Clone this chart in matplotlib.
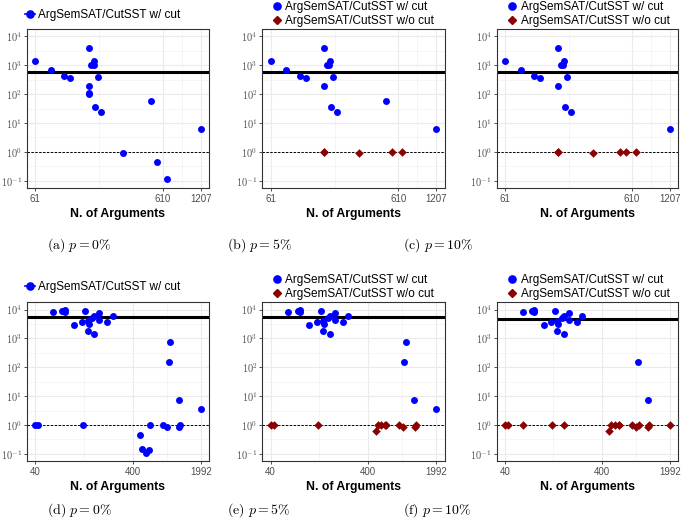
import matplotlib
matplotlib.use('Agg')
import matplotlib.pyplot as plt
from matplotlib.lines import Line2D
from matplotlib.ticker import FixedLocator, NullFormatter
import numpy as np

plt.rcParams['font.family'] = 'Liberation Sans'
plt.rcParams['mathtext.fontset'] = 'cm'

# ---- data: top row (a)-(c) ----
a_cut_n = [61, 81, 103, 115, 160, 160, 160, 160, 167, 175, 177, 188, 180, 200, 298, 489, 545, 655, 1207]
a_cut_y = [1393, 667, 405, 365, 3980, 189, 105, 98, 989, 1040, 1393, 384, 37, 24.3, 0.91, 56, 0.435, 0.117, 6.04]

b_cut_n = [61, 81, 103, 115, 160, 160, 167, 175, 177, 188, 180, 200, 489, 1207]
b_cut_y = [1393, 667, 405, 365, 3980, 189, 989, 1040, 1393, 384, 37, 24.3, 56, 6.04]
b_nocut_n = [160, 160, 298, 545, 655]
b_nocut_y = [1.0, 1.0, 0.89, 1.0, 1.0]

c_cut_n = [61, 81, 103, 115, 160, 160, 167, 175, 177, 188, 180, 200, 1207]
c_cut_y = [1393, 667, 405, 365, 3980, 189, 989, 1040, 1393, 384, 37, 24.3, 6.04]
c_nocut_n = [160, 160, 298, 489, 545, 655]
c_nocut_y = [1.0, 1.0, 0.89, 1.0, 1.0, 1.0]

# ---- data: bottom row (d)-(f) ----
cluster_n = [61, 76, 80, 80, 100, 120, 130, 139, 162, 139, 142, 153, 161, 181, 181, 220, 249]
cluster_y = [8260, 9240, 9690, 7890, 2944, 3733, 8740, 1787, 1443, 3950, 3190, 4900, 6030, 7450, 4380, 3730, 6010]

d_low_n = [40, 43, 123, 475, 498, 543, 591, 601, 822, 903, 1191, 1228]
d_low_y = [1.0, 1.0, 1.0, 0.46, 0.149, 0.105, 0.133, 0.98, 1.0, 0.82, 0.87, 1.0]
tail_n = [935, 964, 1183, 1992]
tail_y = [149, 728, 7.1, 3.47]

e_nocut_n = [40, 43, 123, 475, 498, 543, 591, 601, 822, 903, 1191, 1228]
e_nocut_y = [1.0, 1.0, 1.0, 0.64, 1.0, 1.0, 1.0, 1.0, 1.0, 0.83, 0.87, 1.0]

f_tail_n = [935, 1183]
f_tail_y = [149, 7.1]
f_nocut_n = [40, 43, 61, 123, 162, 475, 498, 543, 591, 601, 822, 903, 964, 1191, 1228, 1992]
f_nocut_y = [1.0, 1.0, 1.0, 1.0, 1.0, 0.64, 1.0, 1.0, 1.0, 1.0, 1.0, 0.83, 1.0, 0.87, 1.0, 0.98]

top_ticks = [61, 610, 1207]
bottom_ticks = [40, 400, 1992]
top_hline = [558, 558, 558]
bottom_hline = [5420, 5420, 4640]
captions = [r'$\mathrm{(a)}\ p = 0\%$', r'$\mathrm{(b)}\ p = 5\%$', r'$\mathrm{(c)}\ p = 10\%$',
            r'$\mathrm{(d)}\ p = 0\%$', r'$\mathrm{(e)}\ p = 5\%$', r'$\mathrm{(f)}\ p = 10\%$']

BLUE = '#0000FF'
RED = '#8B0000'
W, H = 685, 526
fig = plt.figure(figsize=(W / 100, H / 100), dpi=100)


def add_ax(left, top, right, bottom):
    return fig.add_axes([left / W, 1 - bottom / H, (right - left) / W, (bottom - top) / H])


def panel(ax, cut_n, cut_y, nocut_n, nocut_y, hline, ticks, caption, cap_xy, leg_xy):
    lo, hi = np.log10(ticks[0]), np.log10(ticks[-1])
    ex = 0.05 * (hi - lo)
    ax.set_xscale('log')
    ax.set_yscale('log')
    ax.set_xlim(10 ** (lo - ex), 10 ** (hi + ex))
    ax.set_ylim(10 ** -1.25, 10 ** 4.25)

    ax.xaxis.set_major_locator(FixedLocator(ticks))
    ax.set_xticklabels([str(t) for t in ticks])
    lt = np.log10(ticks)
    ax.xaxis.set_minor_locator(FixedLocator(10 ** ((lt[:-1] + lt[1:]) / 2)))
    ax.xaxis.set_minor_formatter(NullFormatter())
    yt = [10.0 ** k for k in range(-1, 5)]
    ax.yaxis.set_major_locator(FixedLocator(yt))
    ax.set_yticklabels([r'$\mathsf{10^{%d}}$' % k for k in range(-1, 5)])
    ax.yaxis.set_minor_locator(FixedLocator([10 ** (k + 0.5) for k in range(-2, 4)]))
    ax.yaxis.set_minor_formatter(NullFormatter())

    ax.grid(which='major', color='#EBEBEB', lw=0.8)
    ax.grid(which='minor', color='#F2F2F2', lw=0.5)
    ax.set_axisbelow(True)
    ax.tick_params(which='major', labelsize=7, labelcolor='#4D4D4D', color='#333333',
                   length=2.5, width=0.6, pad=1.5)
    ax.tick_params(axis='y', which='major', labelsize=7.4, pad=1)
    ax.tick_params(which='minor', length=0)
    for s in ax.spines.values():
        s.set_color('#333333')
        s.set_linewidth(0.8)

    ax.axhline(hline, color='black', lw=2.2, zorder=2)
    ax.axhline(1, color='black', lw=0.7, ls=(0, (2.5, 1.5)), zorder=2)
    ax.scatter(cut_n, cut_y, s=25, c=BLUE, linewidths=0, zorder=3)
    if nocut_n:
        ax.scatter(nocut_n, nocut_y, s=19, marker='D', c=RED, linewidths=0, zorder=3)
        handles = [Line2D([], [], color=BLUE, marker='o', ms=5.2, ls='none'),
                   Line2D([], [], color=RED, marker='D', ms=4.0, ls='none')]
        labels = ['ArgSemSAT/CutSST w/ cut', 'ArgSemSAT/CutSST w/o cut']
        hl = 1.0
    else:
        handles = [Line2D([], [], color=BLUE, marker='o', ms=5.2, lw=1.2)]
        labels = ['ArgSemSAT/CutSST w/ cut']
        hl = 0.85
    ax.legend(handles, labels, loc='center left', frameon=False, fontsize=8.5,
              bbox_to_anchor=(leg_xy[0] / W, 1 - leg_xy[1] / H), bbox_transform=fig.transFigure,
              borderpad=0, borderaxespad=0, handlelength=hl, handletextpad=0.22, labelspacing=0.18)

    ax.set_xlabel('N. of Arguments', fontsize=8.8, fontweight='bold', labelpad=3)
    fig.text(cap_xy[0] / W, 1 - cap_xy[1] / H, caption, ha='center', va='center', fontsize=10)


ax_a = add_ax(27, 29, 209, 188)
ax_b = add_ax(262.3, 29, 444.7, 188)
ax_c = add_ax(496.7, 29, 678, 188)
ax_d = add_ax(27, 302.3, 209, 461)
ax_e = add_ax(262.3, 302.3, 444.7, 461)
ax_f = add_ax(496.7, 302.3, 678, 461)

panel(ax_a, a_cut_n, a_cut_y, [], [], top_hline[0], top_ticks, captions[0], (79, 245), (25, 15))
panel(ax_b, b_cut_n, b_cut_y, b_nocut_n, b_nocut_y, top_hline[1], top_ticks, captions[1], (259, 245), (271, 13.9))
panel(ax_c, c_cut_n, c_cut_y, c_nocut_n, c_nocut_y, top_hline[2], top_ticks, captions[2], (438, 245), (506.4, 13.9))
panel(ax_d, cluster_n + d_low_n + tail_n, cluster_y + d_low_y + tail_y, [], [], bottom_hline[0],
      bottom_ticks, captions[3], (79, 510), (25, 286.7))
panel(ax_e, cluster_n + tail_n, cluster_y + tail_y, e_nocut_n, e_nocut_y, bottom_hline[1],
      bottom_ticks, captions[4], (259, 510), (271, 287.3))
panel(ax_f, cluster_n + f_tail_n, cluster_y + f_tail_y, f_nocut_n, f_nocut_y, bottom_hline[2],
      bottom_ticks, captions[5], (437, 510), (506.4, 287.3))

fig.savefig('out.png', dpi=100)
